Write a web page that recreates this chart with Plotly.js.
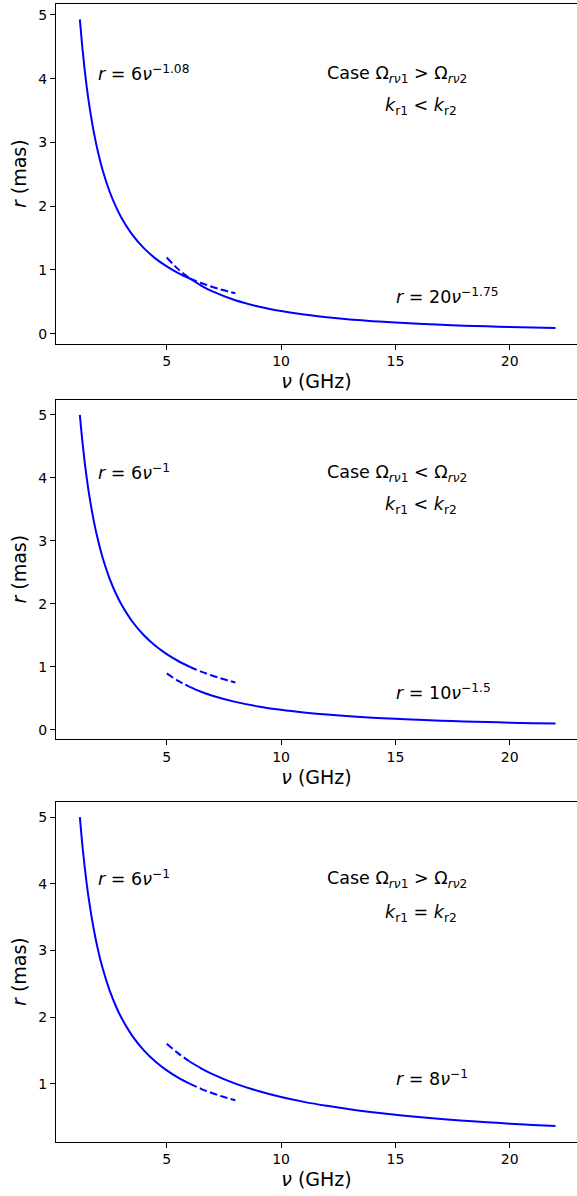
<!DOCTYPE html>
<html>
<head>
<meta charset="utf-8">
<script src="https://cdn.plot.ly/plotly-3.0.1.min.js"></script>
<style>html,body{margin:0;padding:0;background:#fff;}</style>
</head>
<body>
<div id="chart" style="width:577px;height:1196px;"></div>
<script>
// Frequencies (GHz)
const nuA1 = [1.2,1.3,1.4,1.5,1.6,1.8,2.0,2.2,2.5,2.8,3.0,3.5,4.0,4.5,5.0,5.5,6.0];
const nuA2 = [6.0,6.5,7.0,7.5,8.0];
const nuB1 = [5.0,5.5,6.0];
const nuB2 = [6.0,6.5,7,8,9,10,11,12,13,14,15,16,17,18,19,20,21,22];

// Panel 1: r = 6 nu^-1.08 and r = 20 nu^-1.75
const p1_rA1 = [4.928,4.520,4.172,3.872,3.612,3.180,2.838,2.560,2.230,1.973,1.832,1.551,1.342,1.182,1.055,0.952,0.866];
const p1_rA2 = [0.866,0.795,0.734,0.681,0.635];
const p1_rB1 = [1.196,1.013,0.870];
const p1_rB2 = [0.870,0.756,0.664,0.526,0.428,0.356,0.301,0.259,0.225,0.197,0.175,0.156,0.141,0.127,0.116,0.106,0.097,0.090];

// Panel 2: r = 6 nu^-1 and r = 10 nu^-1.5
const p2_rA1 = [5.000,4.615,4.286,4.000,3.750,3.333,3.000,2.727,2.400,2.143,2.000,1.714,1.500,1.333,1.200,1.091,1.000];
const p2_rA2 = [1.000,0.923,0.857,0.800,0.750];
const p2_rB1 = [0.894,0.775,0.680];
const p2_rB2 = [0.680,0.603,0.540,0.442,0.370,0.316,0.274,0.241,0.213,0.191,0.172,0.156,0.143,0.131,0.121,0.112,0.104,0.097];

// Panel 3: r = 6 nu^-1 and r = 8 nu^-1
const p3_rA1 = [5.000,4.615,4.286,4.000,3.750,3.333,3.000,2.727,2.400,2.143,2.000,1.714,1.500,1.333,1.200,1.091,1.000];
const p3_rA2 = [1.000,0.923,0.857,0.800,0.750];
const p3_rB1 = [1.600,1.455,1.333];
const p3_rB2 = [1.333,1.231,1.143,1.000,0.889,0.800,0.727,0.667,0.615,0.571,0.533,0.500,0.471,0.444,0.421,0.400,0.381,0.364];

const xTicks = [5,10,15,20];
const yTicks = [0,1,2,3,4,5];

const labelsLeft = ['<i>r</i> = 6<i>ν</i><sup>−1.08</sup>', '<i>r</i> = 6<i>ν</i><sup>−1</sup>', '<i>r</i> = 6<i>ν</i><sup>−1</sup>'];
const labelsCase = [
  'Case Ω<sub><i>rν</i>1</sub> &gt; Ω<sub><i>rν</i>2</sub>',
  'Case Ω<sub><i>rν</i>1</sub> &lt; Ω<sub><i>rν</i>2</sub>',
  'Case Ω<sub><i>rν</i>1</sub> &gt; Ω<sub><i>rν</i>2</sub>'
];
const labelsK = [
  '<i>k</i><sub>r1</sub> &lt; <i>k</i><sub>r2</sub>',
  '<i>k</i><sub>r1</sub> &lt; <i>k</i><sub>r2</sub>',
  '<i>k</i><sub>r1</sub> = <i>k</i><sub>r2</sub>'
];
const labelsRight = [
  '<i>r</i> = 20<i>ν</i><sup>−1.75</sup>',
  '<i>r</i> = 10<i>ν</i><sup>−1.5</sup>',
  '<i>r</i> = 8<i>ν</i><sup>−1</sup>'
];
const labelsRightY = [0.5, 0.5, 1.0];

const panels = [
  [p1_rA1, p1_rA2, p1_rB1, p1_rB2],
  [p2_rA1, p2_rA2, p2_rB1, p2_rB2],
  [p3_rA1, p3_rA2, p3_rB1, p3_rB2]
];

const H = 1196;
const pxDomains = [[4,343.5],[399.5,739],[801.7,1141.5]];
const yRanges = [[-0.153,5.17],[-0.148,5.245],[0.132,5.232]];
const xRange = [0.157, 22.94];

const blue = '#0000ff';
const solid = {color: blue, width: 2, shape: 'spline', smoothing: 1};
const dashed = {color: blue, width: 2, dash: '7.7px,3.3px', shape: 'spline', smoothing: 1};
const font = 'DejaVu Sans, sans-serif';

const traces = [];
const layout = {
  width: 577, height: 1196,
  margin: {l: 56, r: 0, t: 0, b: 0},
  paper_bgcolor: '#fff', plot_bgcolor: '#fff',
  showlegend: false,
  font: {family: font, color: '#000', size: 14},
  annotations: []
};

panels.forEach((p, i) => {
  const xa = i === 0 ? 'x' : 'x' + (i + 1);
  const ya = i === 0 ? 'y' : 'y' + (i + 1);
  const xs = [nuA1, nuA2, nuB1, nuB2];
  const styles = [solid, dashed, dashed, solid];
  for (let k = 0; k < 4; k++) {
    traces.push({x: xs[k], y: p[k], type: 'scatter', mode: 'lines', line: styles[k],
      xaxis: xa, yaxis: ya, hoverinfo: 'skip'});
  }
  const d = pxDomains[i];
  const axKeyX = i === 0 ? 'xaxis' : 'xaxis' + (i + 1);
  const axKeyY = i === 0 ? 'yaxis' : 'yaxis' + (i + 1);
  layout[axKeyX] = {
    domain: [0, 1], anchor: ya, range: xRange,
    tickvals: xTicks, ticks: 'outside', ticklen: 5, tickwidth: 1, tickcolor: '#000',
    showline: true, linecolor: '#000', linewidth: 1, mirror: true,
    showgrid: false, zeroline: false,
    tickfont: {size: 14, family: font},
    title: {text: '<i>ν</i> (GHz)', font: {size: 19, family: font}, standoff: 6}
  };
  layout[axKeyY] = {
    domain: [1 - d[1] / H, 1 - d[0] / H], anchor: xa, range: yRanges[i],
    tickvals: yTicks, ticks: 'outside', ticklen: 5, tickwidth: 1, tickcolor: '#000',
    showline: true, linecolor: '#000', linewidth: 1, mirror: false,
    showgrid: false, zeroline: false,
    tickfont: {size: 14, family: font},
    title: {text: '<i>r</i> (mas)', font: {size: 19, family: font}, standoff: 6}
  };
  const common = {xref: xa, yref: ya, showarrow: false, xanchor: 'left', yanchor: 'middle',
    font: {size: 17.5, family: font, color: '#000'}};
  layout.annotations.push(Object.assign({}, common, {x: 1.9, y: 4.0, text: labelsLeft[i], yshift: 6}));
  layout.annotations.push(Object.assign({}, common, {x: 11.9, y: 4.0, text: labelsCase[i], yshift: 4}));
  layout.annotations.push(Object.assign({}, common, {x: 14.45, y: 3.5, text: labelsK[i], yshift: 4}));
  layout.annotations.push(Object.assign({}, common, {x: 14.95, y: labelsRightY[i], text: labelsRight[i], yshift: 6}));
});

Plotly.newPlot('chart', traces, layout, {displayModeBar: false, responsive: false});
</script>
</body>
</html>
